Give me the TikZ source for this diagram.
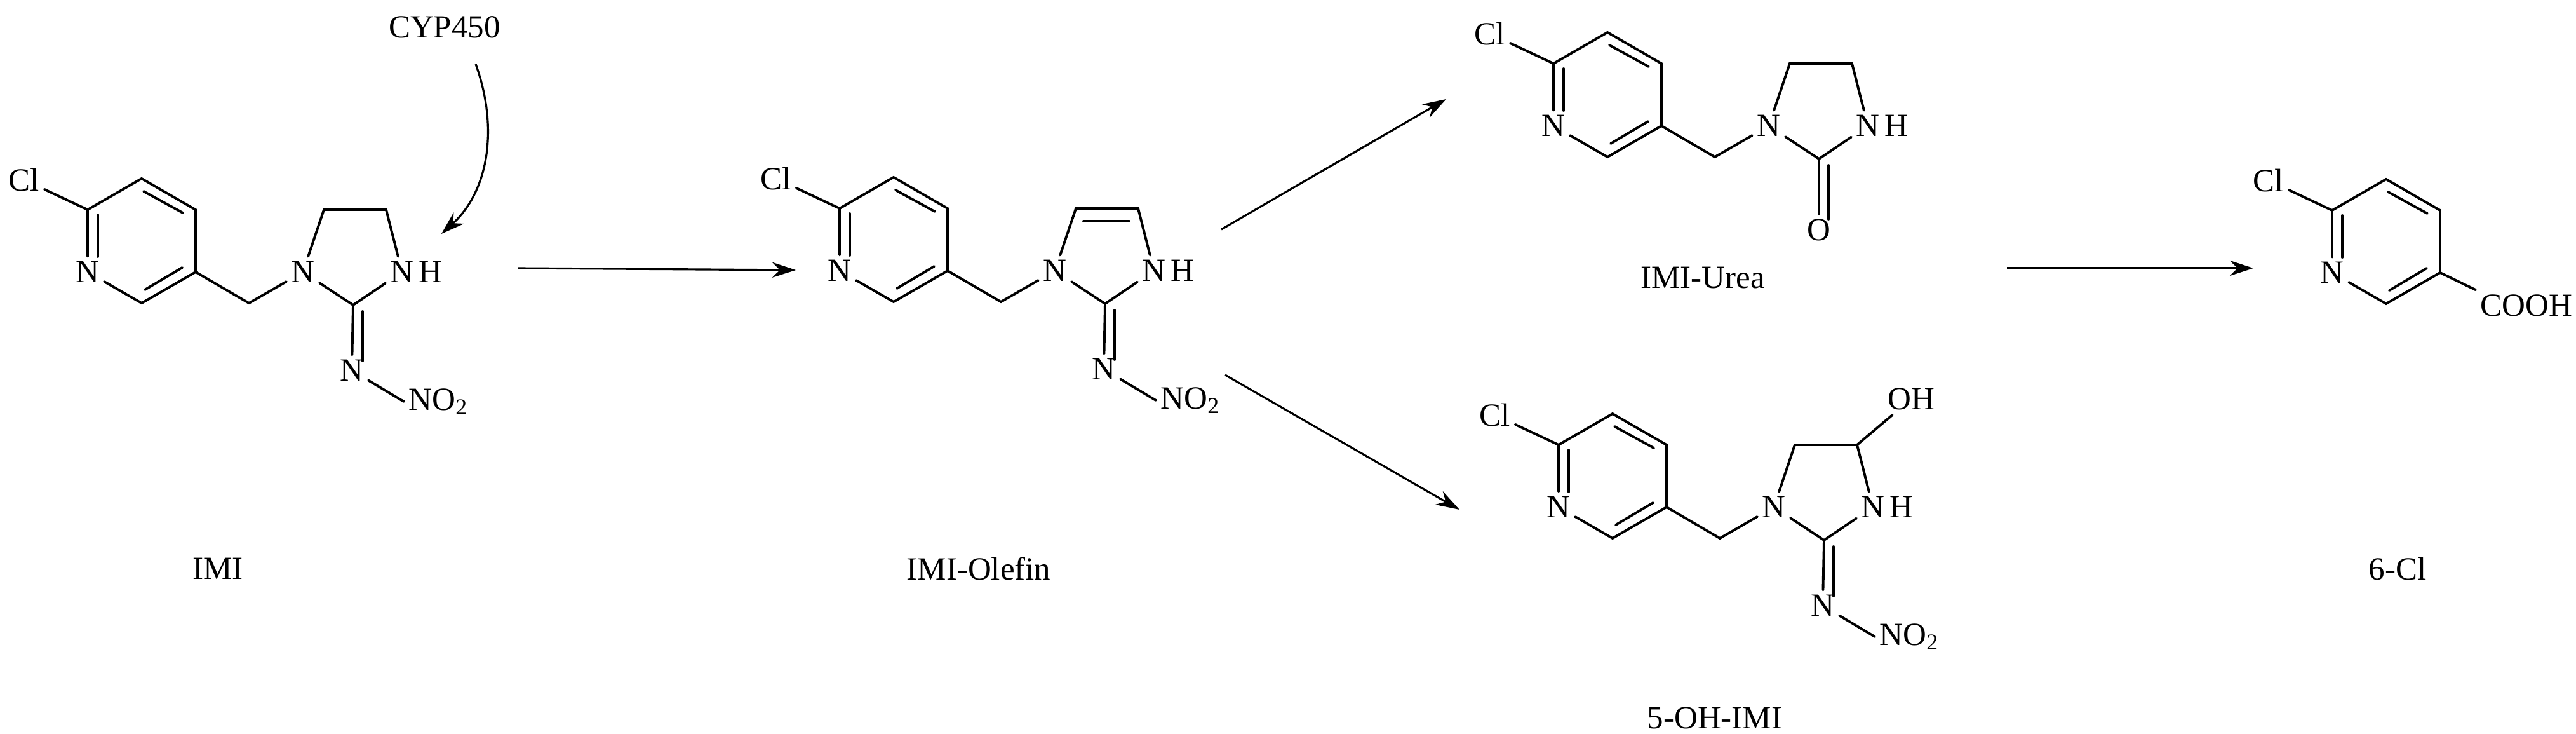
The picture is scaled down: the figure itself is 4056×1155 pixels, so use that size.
\documentclass[tikz,border=0pt]{standalone}
\usepackage{fontspec}
\setmainfont{Liberation Serif}
\usetikzlibrary{arrows.meta}
\newcommand\molfont{\fontsize{14.5}{16}\selectfont}
\newcommand\pyridine{%
  \coordinate (c6) at (0,0); \coordinate (c5) at (85,-49); \coordinate (c4) at (170,0);
  \coordinate (c3) at (170,98); \coordinate (c2) at (85,147);
  \node[atom] (n) at (0,98) {N};
  \node[atom] (cl) at (-100,-47) {Cl};
  \draw[bond] (cl) -- (c6) -- (c5) -- (c4) -- (c3) -- (c2) -- (n) -- (c6);
  \draw[bond] (16,8) -- (16,74);
  \draw[bond] (88,-29) -- (150,5);
  \draw[bond] (149,91) -- (90,126);
}
\newcommand\imidring[1]{%
  \coordinate (ch2) at (254,147);
  \node[atom] (n1) at (339,98) {N};
  \coordinate (tl) at (372,0); \coordinate (tr) at (470,0);
  \node[atom] (nh) at (495,98) {N};
  \node[atom,anchor=west,inner sep=0pt] (hh) at (nh.east) {H};
  \coordinate (cc) at (418,150);
  \draw[bond] (c3) -- (ch2) -- (n1) -- (tl) -- (tr) -- (nh);
  \draw[bond] (n1) -- (cc) -- (nh);
  #1
}
\tikzset{
  bond/.style={line width=1.1pt, line cap=round},
  atom/.style={inner sep=2pt, font=\molfont},
  lbl/.style={inner sep=0pt, font=\molfont},
  rxn/.style={line width=0.9pt, -{Stealth[length=0.37cm,width=0.24cm]}},
}
\begin{document}
\begin{tikzpicture}[x=0.01cm, y=-0.01cm]
\useasboundingbox (0,0) rectangle (4056,1155);
\fill[white] (0,0) rectangle (4056,1155);

% IMI
\begin{scope}[shift={(138,330)}, name prefix=imi-]
  \pyridine
  \imidring{%
    \node[atom] (ni) at (416,253) {N};
    \node[atom,anchor=west] (no) at (498,302) {NO\textsubscript{2}};
    \draw[bond] (cc) -- (ni); \draw[bond] (433,160) -- (433,238);
    \draw[bond] (ni) -- (no.west);}
\end{scope}

% IMI-Olefin
\begin{scope}[shift={(1322,328)}, name prefix=ole-]
  \pyridine
  \imidring{%
    \node[atom] (ni) at (416,253) {N};
    \node[atom,anchor=west] (no) at (498,302) {NO\textsubscript{2}};
    \draw[bond] (cc) -- (ni); \draw[bond] (433,160) -- (433,238);
    \draw[bond] (ni) -- (no.west);
    \draw[bond] (384,20) -- (456,20);}
\end{scope}

% IMI-Urea
\begin{scope}[shift={(2446,100)}, name prefix=ure-]
  \pyridine
  \imidring{%
    \node[atom] (o) at (418,262) {O};
    \draw[bond] (cc) -- (o); \draw[bond] (433,160) -- (433,245);}
\end{scope}

% 5-OH-IMI
\begin{scope}[shift={(2454,700)}, name prefix=oh-]
  \pyridine
  \imidring{%
    \node[atom] (ni) at (416,253) {N};
    \node[atom,anchor=west] (no) at (498,302) {NO\textsubscript{2}};
    \draw[bond] (cc) -- (ni); \draw[bond] (433,160) -- (433,238);
    \draw[bond] (ni) -- (no.west);
    \node[atom] (ohl) at (555,-72) {OH};
    \draw[bond] (tr) -- (ohl);}
\end{scope}

% 6-Cl
\begin{scope}[shift={(3672,331)}, name prefix=six-]
  \pyridine
  \node[atom,anchor=west] (cooh) at (226,150) {COOH};
  \draw[bond] (c3) -- (cooh.north west);
\end{scope}

% labels
\node[lbl] (limi) at (343,895) {IMI};
\node[lbl] (lole) at (1541,895) {IMI-Olefin};
\node[lbl] (lure) at (2681,437) {IMI-Urea};
\node[lbl] (loh) at (2700,1130) {5-OH-IMI};
\node[lbl] (lsix) at (3775,895) {6-Cl};
\node[lbl] (cyp) at (700,43) {CYP450};

% arrows
\coordinate (a1s) at (815,422); \coordinate (a1e) at (1253,425);
\coordinate (a2s) at (1923,361); \coordinate (a2e) at (2277,156);
\coordinate (a3s) at (1929,590); \coordinate (a3e) at (2298,802);
\coordinate (a4s) at (3160,422); \coordinate (a4e) at (3548,422);
\coordinate (cs) at (749,101); \coordinate (ce) at (695,368);
\draw[rxn] (a1s) -- (a1e);
\draw[rxn] (a2s) -- (a2e);
\draw[rxn] (a3s) -- (a3e);
\draw[rxn] (a4s) -- (a4e);
\draw[rxn] (cs) .. controls (785,200) and (770,300) .. (ce);
\end{tikzpicture}
\end{document}
